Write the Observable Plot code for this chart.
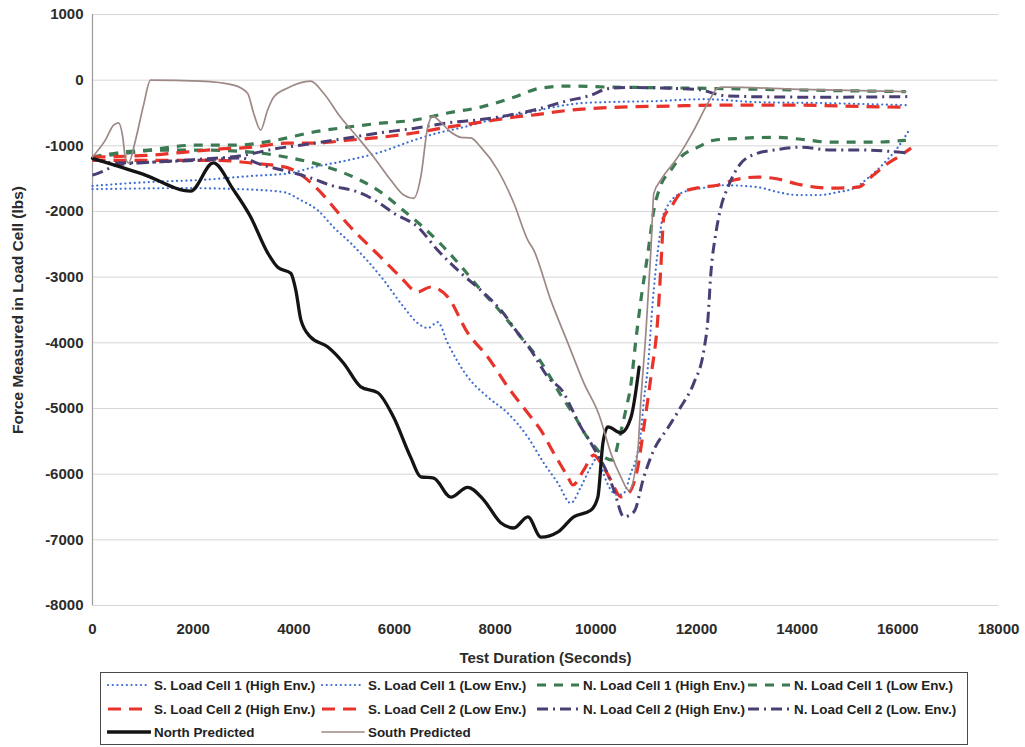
<!DOCTYPE html>
<html><head><meta charset="utf-8">
<script src="https://cdn.jsdelivr.net/npm/d3@7"></script>
<script src="https://cdn.jsdelivr.net/npm/@observablehq/plot@0.6"></script>
<style>
body{margin:0;background:#fff;font-family:Arial,"Liberation Sans",sans-serif;}
#wrap{position:relative;width:1025px;height:747px;}
#legend{position:absolute;left:100px;top:672px;width:866px;height:71px;border:1.5px solid #4a4a4a;}
.item{position:absolute;display:flex;align-items:center;font-size:13.4px;font-weight:bold;color:#222;white-space:nowrap;height:16px;}
.item svg{margin-right:3px;flex:none}
</style></head><body><div id="wrap"><div id="chart"></div><div id="legend"></div></div>
<script>
const xTicks = [0, 2000, 4000, 6000, 8000, 10000, 12000, 14000, 16000, 18000];
const yTicks = [1000, 0, -1000, -2000, -3000, -4000, -5000, -6000, -7000, -8000];
const xTitle = "Test Duration (Seconds)";
const yTitle = "Force Measured in Load Cell (lbs)";
const seriesNames = [
  "S. Load Cell 1 (High Env.)", "S. Load Cell 1 (Low Env.)", "N. Load Cell 1 (High Env.)", "N. Load Cell 1 (Low Env.)",
  "S. Load Cell 2 (High Env.)", "S. Load Cell 2 (Low Env.)", "N. Load Cell 2 (High Env.)", "N. Load Cell 2 (Low. Env.)",
  "North Predicted", "South Predicted"
];

const sCell1High = [[0,-1610],[1153,-1550],[2147,-1520],[3141,-1460],[3936,-1415],[4393,-1325],[5070,-1220],[5726,-1095],[6381,-915],[6859,-805],[7375,-715],[8052,-580],[8708,-485],[9165,-410],[9702,-350],[10159,-335],[11153,-320],[12147,-290],[13221,-335],[14533,-350],[16160,-380]];
const sCell1Low = [[0,-1660],[1849,-1645],[2942,-1660],[3797,-1705],[4135,-1825],[4473,-1980],[4791,-2240],[5129,-2480],[5785,-3045],[6183,-3455],[6461,-3700],[6660,-3775],[6859,-3685],[7057,-4005],[7455,-4520],[7852,-4825],[8250,-5070],[8648,-5435],[8966,-5830],[9245,-6135],[9503,-6440],[9702,-6195],[9901,-5890],[10040,-5740],[10159,-6010],[10298,-6240],[10437,-6315],[10557,-6290],[10696,-5980],[10795,-5780],[10895,-5370],[10955,-4870],[11034,-4370],[11133,-3350],[11233,-2590],[11352,-2025],[11690,-1720],[12226,-1630],[12544,-1600],[13221,-1630],[13618,-1705],[14016,-1750],[14414,-1750],[14811,-1705],[15129,-1645],[15407,-1490],[15725,-1265],[16004,-1020],[16223,-760]];
const nCell1High = [[0,-1170],[855,-1095],[2048,-990],[2843,-990],[3638,-915],[4393,-790],[5070,-715],[5726,-655],[6381,-610],[7057,-500],[7714,-410],[8370,-260],[8907,-120],[9443,-90],[10239,-105],[11292,-115],[12226,-125],[14075,-150],[16160,-175]];
const nCell1Low = [[0,-1170],[1153,-1065],[2147,-1065],[3141,-1095],[3837,-1170],[4334,-1250],[4731,-1340],[5228,-1490],[5726,-1705],[6123,-1950],[6521,-2205],[6918,-2495],[7316,-2830],[7714,-3195],[8111,-3530],[8509,-3910],[8907,-4290],[9304,-4795],[9602,-5145],[9801,-5405],[10000,-5600],[10199,-5755],[10338,-5785],[10457,-5480],[10596,-5020],[10696,-4640],[10795,-3960],[10895,-3350],[11034,-2635],[11153,-1980],[11292,-1600],[11491,-1370],[11690,-1170],[12028,-1020],[12346,-915],[12883,-885],[13618,-870],[14075,-900],[14672,-945],[15467,-945],[16160,-915]];
const sCell2High = [[0,-1170],[1193,-1140],[1849,-1095],[2505,-1050],[3181,-1020],[3837,-960],[4393,-960],[5070,-915],[5726,-870],[6381,-805],[7057,-715],[7714,-640],[8370,-565],[8708,-535],[9503,-455],[10497,-410],[11491,-395],[12346,-380],[13877,-380],[16064,-410],[16200,-410]];
const sCell2Low = [[0,-1220],[1849,-1220],[2505,-1220],[3181,-1265],[3837,-1325],[4095,-1415],[4433,-1630],[5129,-2240],[5785,-2740],[6123,-3000],[6461,-3225],[6720,-3150],[7057,-3300],[7455,-3850],[7852,-4215],[8250,-4670],[8648,-5070],[8907,-5330],[9165,-5680],[9443,-6040],[9543,-6165],[9761,-5935],[9960,-5710],[10099,-5830],[10298,-6090],[10497,-6345],[10656,-6285],[10835,-5890],[10955,-5280],[11094,-4520],[11233,-3605],[11292,-2845],[11352,-2085],[11491,-1935],[11690,-1720],[12087,-1630],[12425,-1600],[12744,-1520],[13221,-1475],[13618,-1505],[14016,-1585],[14672,-1645],[15209,-1630],[15467,-1475],[15805,-1265],[16064,-1140],[16263,-1035]];
const nCell2High = [[0,-1200],[500,-1260],[1150,-1250],[2000,-1210],[2950,-1150],[3600,-1050],[4400,-960],[5070,-880],[5730,-800],[6380,-735],[7060,-650],[7710,-600],[8370,-520],[8900,-430],[9400,-320],[9900,-230],[10240,-130],[10700,-110],[11300,-120],[12000,-140],[12600,-240],[13500,-255],[14500,-260],[15500,-255],[16250,-250]];
const nCell2Low = [[0,-1445],[258,-1370],[457,-1295],[1153,-1250],[2147,-1220],[2942,-1185],[3380,-1295],[3936,-1400],[4334,-1490],[4731,-1600],[5328,-1720],[5666,-1855],[5984,-2025],[6461,-2235],[6859,-2590],[7316,-2935],[7773,-3240],[8111,-3500],[8449,-3850],[8708,-4110],[9046,-4520],[9364,-4765],[9503,-4975],[9702,-5280],[9901,-5525],[10040,-5710],[10199,-5935],[10358,-6240],[10557,-6650],[10756,-6575],[10955,-6040],[11153,-5630],[11431,-5295],[11690,-4975],[11948,-4610],[12147,-4110],[12226,-3650],[12286,-2935],[12385,-2330],[12485,-1935],[12624,-1630],[12883,-1265],[13221,-1110],[13539,-1065],[14075,-1020],[14672,-1065],[15328,-1065],[16004,-1095],[16200,-1110]];
const northPredicted = [[0,-1190],[1000,-1430],[1950,-1690],[2400,-1260],[2800,-1670],[3140,-2080],[3480,-2630],[3680,-2850],[3940,-2940],[4040,-3200],[4140,-3650],[4330,-3910],[4670,-4060],[4990,-4310],[5330,-4670],[5670,-4760],[5980,-5130],[6320,-5740],[6520,-6040],[6780,-6060],[7120,-6350],[7450,-6200],[7770,-6390],[8110,-6740],[8370,-6820],[8650,-6650],[8910,-6960],[9250,-6880],[9560,-6650],[9900,-6550],[10040,-6350],[10140,-5530],[10240,-5280],[10500,-5370],[10700,-5130],[10860,-4370]];
const southPredicted = [[0,-1170],[258,-910],[418,-685],[517,-650],[596,-840],[656,-1190],[716,-1260],[855,-910],[1014,-380],[1153,0],[2147,-15],[2803,-75],[3081,-200],[3200,-500],[3340,-760],[3479,-455],[3598,-260],[3877,-120],[4334,-15],[4592,-200],[4930,-565],[5268,-870],[5586,-1170],[5924,-1520],[6183,-1750],[6381,-1800],[6521,-1480],[6660,-715],[6760,-550],[6918,-640],[7117,-790],[7316,-870],[7515,-880],[7714,-1020],[8052,-1370],[8370,-1870],[8648,-2435],[8767,-2590],[9105,-3350],[9443,-4000],[9761,-4610],[10099,-5175],[10159,-5330],[10298,-5680],[10497,-6040],[10656,-6250],[10835,-5630],[10895,-4870],[10994,-3850],[11094,-2590],[11153,-1720],[11292,-1520],[11630,-1170],[11948,-760],[12226,-350],[12425,-120],[12525,-105],[14075,-140],[16160,-175]];

const seriesData = [sCell1High, sCell1Low, nCell1High, nCell1Low, sCell2High, sCell2Low, nCell2High, nCell2Low, northPredicted, southPredicted];

const BLUE = {stroke:"#3f6fd0", strokeWidth:2.2, strokeDasharray:"0.1,4.6", strokeLinecap:"round"};
const RED = {stroke:"#e8332b", strokeWidth:3.2, strokeDasharray:"13,8", strokeLinecap:"butt"};
const GREEN = {stroke:"#3b7a52", strokeWidth:3.2, strokeDasharray:"9,8", strokeLinecap:"butt"};
const PURPLE = {stroke:"#4a3f74", strokeWidth:3, strokeDasharray:"11,5,2,5", strokeLinecap:"butt"};
const BLACK = {stroke:"#141414", strokeWidth:3.3, strokeLinecap:"round"};
const GRAY = {stroke:"#9e8885", strokeWidth:1.7, strokeLinecap:"round"};
const styles = [BLUE, BLUE, GREEN, GREEN, RED, RED, PURPLE, PURPLE, BLACK, GRAY];

const lineMarks = seriesData.map((data, i) => Plot.line(data, {
  x: d => d[0], y: d => d[1], curve: "monotone-x", strokeLinejoin: "round", ...styles[i]
}));

const chart = Plot.plot({
  width: 1025, height: 668,
  marginLeft: 92, marginRight: 27, marginTop: 14, marginBottom: 63,
  style: {fontFamily: "Arial, 'Liberation Sans', sans-serif", color: "#2b2b2b", background: "white"},
  x: {domain: [0, 18000], label: null},
  y: {domain: [-8000, 1000], label: null},
  marks: [
    Plot.gridY(yTicks, {stroke: "#d6d6d6", strokeOpacity: 1, strokeWidth: 1}),
    Plot.ruleX([0], {stroke: "#9a9a9a", strokeWidth: 1.2}),
    ...lineMarks,
    Plot.axisX(xTicks, {tickSize: 0, tickPadding: 18, tickFormat: d => String(d), fontSize: 15, fontWeight: "bold", label: null}),
    Plot.axisY(yTicks, {tickSize: 0, tickPadding: 9, tickFormat: d => String(d), fontSize: 15, fontWeight: "bold", label: null}),
    Plot.text([xTitle], {text: d => d, frameAnchor: "bottom", dy: 57, fontSize: 15, fontWeight: "bold"}),
    Plot.text([yTitle], {text: d => d, frameAnchor: "left", textAnchor: "middle", dx: -74, rotate: -90, fontSize: 15.5, fontWeight: "bold"})
  ]
});
document.getElementById("chart").appendChild(chart);

// legend
const legend = document.getElementById("legend");
const colX = [6, 220, 435, 646];
const rowY = [4, 28, 51];
seriesNames.forEach((name, i) => {
  const st = styles[i];
  const div = document.createElement("div");
  div.className = "item";
  div.style.left = colX[i % 4] + "px";
  div.style.top = rowY[Math.floor(i / 4)] + "px";
  const ns = "http://www.w3.org/2000/svg";
  const svg = document.createElementNS(ns, "svg");
  svg.setAttribute("width", 44); svg.setAttribute("height", 10);
  const ln = document.createElementNS(ns, "line");
  ln.setAttribute("x1", 1); ln.setAttribute("x2", 43); ln.setAttribute("y1", 5); ln.setAttribute("y2", 5);
  ln.setAttribute("stroke", st.stroke);
  ln.setAttribute("stroke-width", st.strokeWidth);
  if (st.strokeDasharray) ln.setAttribute("stroke-dasharray", st.strokeDasharray);
  ln.setAttribute("stroke-linecap", st.strokeLinecap || "butt");
  svg.appendChild(ln);
  div.appendChild(svg);
  div.appendChild(document.createTextNode(name));
  legend.appendChild(div);
});
</script></body></html>
